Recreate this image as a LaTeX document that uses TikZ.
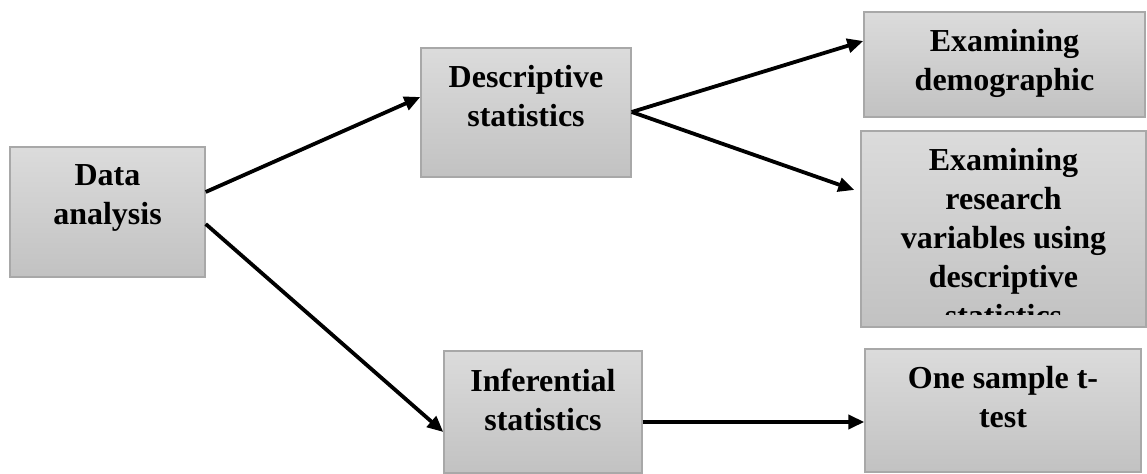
\documentclass[tikz,border=0pt]{standalone}
\usepackage{fontspec}
\setmainfont{Liberation Serif}
\usetikzlibrary{positioning,arrows.meta}
\definecolor{boxtop}{gray}{0.86}
\definecolor{boxbot}{gray}{0.76}
\definecolor{boxline}{gray}{0.66}
\begin{document}
\begin{tikzpicture}[x=0.5pt,y=-0.5pt,
    box/.style={draw=boxline,line width=0.7pt,top color=boxtop,bottom color=boxbot,inner sep=0pt},
    boxtext/.style={inner sep=0pt,align=center,font=\fontsize{16}{19.5}\selectfont\bfseries},
    arr/.style={line width=1.9pt,-{Triangle[length=8pt,width=7pt]}}]
\useasboundingbox (0,0) rectangle (1147,474);
% boxes
    \node[box,minimum width=97.5pt,minimum height=65pt](data) at (107.5,212){};
    \node[box,minimum width=105pt,minimum height=64.5pt](desc) at (526,112.5){};
    \node[box,minimum width=99pt,minimum height=61pt](infer) at (543,412){};
    \node[box,minimum width=140.5pt,minimum height=52.5pt](demo) at (1004.5,64.5){};
    \node[box,minimum width=142.5pt,minimum height=98pt](research) at (1003.5,229){};
    \node[box,minimum width=138pt,minimum height=61.5pt](ttest) at (1003,410.5){};
% texts
    \node[boxtext,below=9pt of data.north](datatext){Data\\analysis};
    \node[boxtext,below=9pt of desc.north](desctext){Descriptive\\statistics};
    \node[boxtext,below=9pt of infer.north](infertext){Inferential\\statistics};
    \node[boxtext,below=9pt of demo.north](demotext){Examining\\demographic};
    \node[boxtext,below=9pt of ttest.north](ttesttext){One sample t-\\test};
\begin{scope}
    \clip (research.north west) rectangle ([yshift=6.5pt]research.south east);
    \node[boxtext,below=9pt of research.north](researchtext){Examining\\research\\variables using\\descriptive\\statistics};
\end{scope}
% arrows
    \draw[arr]([yshift=10pt]data.east)--([yshift=7.75pt]desc.west);
    \draw[arr]([yshift=-6pt]data.east)--([yshift=-10pt]infer.west);
    \draw[arr]([yshift=0.25pt]desc.east)--([yshift=11.75pt]demo.west);
    \draw[arr]([yshift=0.25pt]desc.east)--([xshift=-3pt,yshift=19.5pt]research.west);
    \draw[arr]([yshift=-5pt]infer.east)--([yshift=-5.75pt]ttest.west);
\end{tikzpicture}
\end{document}
